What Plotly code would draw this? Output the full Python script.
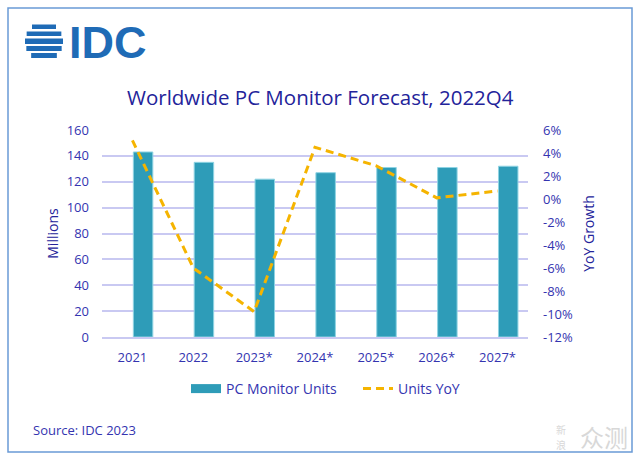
import plotly.graph_objects as go

# ---- data ----
years = ["2021", "2022", "2023*", "2024*", "2025*", "2026*", "2027*"]
units_millions = [143, 135, 122, 127, 131, 131, 132]
units_yoy_pct = [5.1, -6.0, -9.8, 4.5, 2.9, 0.1, 0.7]
left_ticks = [0, 20, 40, 60, 80, 100, 120, 140, 160]
right_ticks = [-12, -10, -8, -6, -4, -2, 0, 2, 4, 6]

W, H = 640, 461
PL, PR, PT, PB = 102, 528, 130, 337  # plot area in pixels

def px(x):
    return (x - PL) / (PR - PL)

def py(y):
    return (PB - y) / (PB - PT)

FONT = "Open Sans"
LABEL = "#3434b0"
TITLE = "#23239a"
BAR = "#2e9cb8"
LINE = "#f5b400"
GRID = "#c9c9f2"
LOGO = "#1f6bb6"

fig = go.Figure()
fig.add_trace(go.Bar(
    x=years, y=units_millions, name="PC Monitor Units",
    marker=dict(color=BAR, line=dict(color="#8fd3e3", width=1)),
    width=0.32, offset=0.015, yaxis="y", showlegend=False, legendgroup="units",
))
# legend entry for the bars (wide swatch like the reference)
fig.add_trace(go.Scatter(
    x=[None], y=[None], name="PC Monitor Units", mode="lines",
    line=dict(color=BAR, width=9), yaxis="y", legendgroup="units", legend="legend",
))
fig.add_trace(go.Scatter(
    x=years, y=units_yoy_pct, name="Units YoY", mode="lines",
    line=dict(color=LINE, width=3, dash="8px,5px"), yaxis="y2", legend="legend2",
))

shapes = []
# outer frame
shapes.append(dict(type="rect", xref="paper", yref="paper",
                   x0=px(8), x1=px(632), y0=py(452), y1=py(8),
                   line=dict(color="#6a9ad6", width=1.5), fillcolor="rgba(0,0,0,0)", layer="below"))
# IDC globe stripes
cx, cy, r = 44, 41.5, 19
for (a, b) in [(24.5, 29), (31.5, 36), (38.5, 44), (46, 51), (53, 58)]:
    m = (a + b) / 2
    d = abs(m - cy)
    half = max((r * r - d * d), 0) ** 0.5
    shapes.append(dict(type="rect", xref="paper", yref="paper",
                       x0=px(cx - half), x1=px(cx + half), y0=py(b), y1=py(a),
                       line=dict(width=0), fillcolor=LOGO))

annotations = [
    dict(text="<b>IDC</b>", x=px(67), y=py(42), xref="paper", yref="paper",
         xanchor="left", yanchor="middle", showarrow=False,
         font=dict(family="Liberation Sans", size=45, color=LOGO)),
    dict(text="Worldwide PC Monitor Forecast, 2022Q4", x=px(320), y=py(97),
         xref="paper", yref="paper", xanchor="center", yanchor="middle", showarrow=False,
         font=dict(family=FONT, size=20.5, color=TITLE)),
    dict(text="Source: IDC 2023", x=px(31), y=py(430), xref="paper", yref="paper",
         xanchor="left", yanchor="middle", showarrow=False,
         font=dict(family=FONT, size=13, color=LABEL)),
    dict(text="众测", x=px(578), y=py(436), xref="paper", yref="paper",
         xanchor="left", yanchor="middle", showarrow=False,
         font=dict(family="Noto Sans CJK SC", size=24, color="#d8d8d8")),
    dict(text="新", x=px(561), y=py(429), xref="paper", yref="paper",
         xanchor="center", yanchor="middle", showarrow=False,
         font=dict(family="Noto Sans CJK SC", size=10, color="#d8d8d8")),
    dict(text="浪", x=px(561), y=py(444), xref="paper", yref="paper",
         xanchor="center", yanchor="middle", showarrow=False,
         font=dict(family="Noto Sans CJK SC", size=10, color="#d8d8d8")),
]

legend_common = dict(orientation="h", yanchor="middle", xanchor="left",
                     font=dict(family=FONT, size=14, color=LABEL), itemwidth=30,
                     bgcolor="rgba(0,0,0,0)")

fig.update_layout(
    width=W, height=H,
    margin=dict(l=PL, r=W - PR, t=PT, b=H - PB, pad=0),
    paper_bgcolor="white", plot_bgcolor="white",
    font=dict(family=FONT, size=13, color=LABEL),
    showlegend=True,
    legend=dict(x=px(186), y=py(389), **legend_common),
    legend2=dict(x=px(358), y=py(389), **legend_common),
    xaxis=dict(type="category", showgrid=False, showline=True, linecolor=GRID, linewidth=1.5,
               ticks="", tickfont=dict(size=13, color=LABEL), ticklabelstandoff=8),
    yaxis=dict(range=[0, 160], tickvals=left_ticks, showgrid=True, gridcolor=GRID, gridwidth=1.5,
               zeroline=False, ticks="", tickfont=dict(size=13, color=LABEL), ticklabelstandoff=12,
               title=dict(text="Millions", font=dict(size=14, color=TITLE), standoff=4)),
    yaxis2=dict(range=[-12, 6], tickvals=right_ticks, ticktext=[f"{v}%" for v in right_ticks],
                overlaying="y", side="right", showgrid=False, zeroline=False, ticks="",
                tickfont=dict(size=13, color=LABEL), ticklabelstandoff=14,
                title=dict(text="YoY Growth", font=dict(size=14, color=TITLE), standoff=12)),
    shapes=shapes, annotations=annotations,
    bargap=0.5,
)

fig.write_html("out.html", config={"displayModeBar": False},
               post_script="document.body.style.margin='0';document.body.style.overflow='hidden';")
